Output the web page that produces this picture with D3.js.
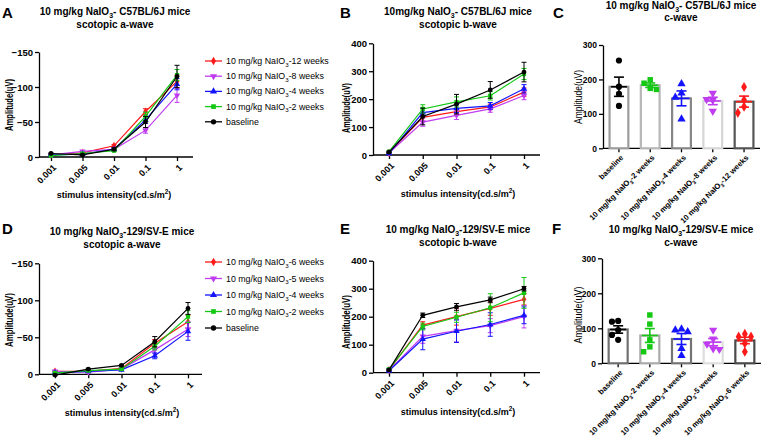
<!DOCTYPE html>
<html><head><meta charset="utf-8">
<script src="https://cdn.jsdelivr.net/npm/d3@7"></script>
<style>body{margin:0;background:#fff}svg{display:block}</style>
</head><body><svg id="c" width="762" height="438"></svg>
<script>
// ---------------- DATA ----------------
const intensities = ["0.001", "0.005", "0.01", "0.1", "1"];

// Panel A: C57BL/6J scotopic a-wave (uV)
const legendA = ["10 mg/kg NaIO3-12 weeks", "10 mg/kg NaIO3-8 weeks", "10 mg/kg NaIO3-4 weeks", "10 mg/kg NaIO3-2 weeks", "baseline"];
const A_w12 = [-3, -6, -16, -65, -108], A_w12Err = [1, 1, 2, 4, 9];
const A_w8  = [-3, -8, -11, -38, -88],  A_w8Err  = [1, 1, 1, 4, 10];
const A_w4  = [-3, -4, -11, -53, -104], A_w4Err  = [1, 1, 2, 5, 8];
const A_w2  = [-2, -5, -9, -58, -117],  A_w2Err  = [1, 1, 1, 6, 8];
const A_base = [-5, -3, -11, -50, -115], A_baseErr = [1, 1, 2, 8, 16];

// Panel B: C57BL/6J scotopic b-wave (uV)
const B_w12 = [8, 135, 155, 172, 225], B_w12Err = [2, 15, 12, 10, 15];
const B_w8  = [7, 118, 142, 165, 213], B_w8Err  = [2, 15, 15, 12, 15];
const B_w4  = [6, 152, 167, 176, 237], B_w4Err  = [2, 15, 15, 12, 15];
const B_w2  = [12, 165, 190, 212, 290], B_w2Err = [3, 15, 18, 15, 20];
const B_base = [10, 138, 182, 233, 297], B_baseErr = [3, 30, 35, 30, 35];

// Panel C: C57BL/6J c-wave, individual animals (uV)
const catsC = ["baseline", "10 mg/kg NaIO3-2 weeks", "10 mg/kg NaIO3-4 weeks", "10 mg/kg NaIO3-8 weeks", "10 mg/kg NaIO3-12 weeks"];
const C_base = [255, 179, 158, 123];
const C_w2   = [199, 189, 174, 171];
const C_w4   = [187, 160, 148, 85];
const C_w8   = [160, 142, 140, 108];
const C_w12  = [178, 140, 121, 103];

// Panel D: 129/SV-E scotopic a-wave (uV)
const legendD = ["10 mg/kg NaIO3-6 weeks", "10 mg/kg NaIO3-5 weeks", "10 mg/kg NaIO3-4 weeks", "10 mg/kg NaIO3-2 weeks", "baseline"];
const D_w6  = [-4, -4, -8, -42, -71], D_w6Err = [1, 1, 1, 5, 9];
const D_w5  = [-4, -3, -7, -33, -61], D_w5Err = [1, 1, 1, 5, 10];
const D_w4  = [-2, -4, -6, -25, -58], D_w4Err = [1, 1, 1, 4, 12];
const D_w2  = [-2, -5, -7, -38, -78], D_w2Err = [1, 1, 1, 5, 8];
const D_base = [1, -7, -12, -44, -89], D_baseErr = [1, 1, 1, 7, 8];

// Panel E: 129/SV-E scotopic b-wave (uV)
const E_w6  = [10, 170, 200, 230, 262], E_w6Err = [3, 12, 30, 25, 20];
const E_w5  = [8, 130, 150, 168, 200],  E_w5Err = [3, 25, 40, 25, 40];
const E_w4  = [7, 120, 148, 172, 205],  E_w4Err = [3, 38, 40, 42, 30];
const E_w2  = [12, 165, 198, 232, 285], E_w2Err = [3, 12, 18, 50, 55];
const E_base = [10, 205, 235, 260, 300], E_baseErr = [3, 8, 12, 10, 8];

// Panel F: 129/SV-E c-wave, individual animals (uV)
const catsF = ["baseline", "10 mg/kg NaIO3-2 weeks", "10 mg/kg NaIO3-4 weeks", "10 mg/kg NaIO3-5 weeks", "10 mg/kg NaIO3-6 weeks"];
const F_base = [121, 119, 95, 81, 67];
const F_w2   = [138, 112, 67, 47, 33];
const F_w4   = [98, 95, 90, 42, 22];
const F_w5   = [95, 70, 55, 42, 40];
const F_w6   = [84, 76, 76, 57, 33];

const aTicks = [-150, -100, -50, 0];
const bTicks = [0, 100, 200, 300, 400];
const cTicks = [0, 100, 200, 300];

// ---------------- STYLE ----------------
const FONT = '"Liberation Sans", Arial, Helvetica, sans-serif';
const lineColors = ["#ff1a1a", "#c03cf0", "#1414ff", "#14c814", "#000000"];
const lineSymbols = ["diamond", "down", "up", "square", "circle"];
const barPointColors = ["#000000", "#14c814", "#1414ff", "#c03cf0", "#ff1a1a"];
const barSymbols = ["circle", "square", "up", "down", "diamond"];
const barStrokeC = ["#9c9c9c", "#b6b6b6", "#868686", "#d6d6d6", "#555555"];
const barStrokeF = ["#707070", "#aaaaaa", "#747474", "#dedede", "#4a4a4a"];

const svg = d3.select("#c").attr("font-family", FONT);

function rich(t, str, fs) {
  t.text(null);
  let cur = 0;
  function add(s, off, small) {
    const ts = t.append("tspan").text(s);
    if (off !== cur) { ts.attr("dy", off - cur); cur = off; }
    if (small) ts.attr("font-size", fs * 0.7);
  }
  str.split(/(NaIO3|\^2)/).filter(p => p !== "").forEach(p => {
    if (p === "NaIO3") { add("NaIO", 0, false); add("3", fs * 0.3, true); }
    else if (p === "^2") { add("2", -fs * 0.4, true); }
    else add(p, 0, false);
  });
}

function symPath(kind, area) {
  const map = { circle: d3.symbolCircle, square: d3.symbolSquare, up: d3.symbolTriangle, down: d3.symbolTriangle, diamond: d3.symbolDiamond };
  return d3.symbol().type(map[kind]).size(area)();
}
function drawSym(g, kind, cx, cy, area, color) {
  g.append("path").attr("d", symPath(kind, area))
    .attr("transform", `translate(${cx},${cy})` + (kind === "down" ? " rotate(180)" : ""))
    .attr("fill", color);
}

function title(cx, y1, y2, l1, l2) {
  const t1 = svg.append("text").attr("x", cx).attr("y", y1).attr("text-anchor", "middle")
    .attr("font-size", 10).attr("font-weight", "bold");
  rich(t1, l1, 10);
  svg.append("text").attr("x", cx).attr("y", y2).attr("text-anchor", "middle")
    .attr("font-size", 10).attr("font-weight", "bold").text(l2);
}
function letter(x, y, s) {
  svg.append("text").attr("x", x).attr("y", y).attr("font-size", 15).attr("font-weight", "bold").text(s);
}
function yLabel(x, cy, bold, len) {
  svg.append("text").attr("transform", `translate(${x},${cy}) rotate(-90)`).attr("text-anchor", "middle")
    .attr("font-size", 10.5).attr("font-weight", bold ? "bold" : "normal")
    .attr("textLength", len).attr("lengthAdjust", "spacingAndGlyphs").text("Amplitude(uV)");
}

function linePanel(o) {
  const g = svg.append("g");
  const x = d3.scalePoint().domain(intensities).range([o.x0, o.x1]);
  const y = d3.scaleLinear().domain(o.yDomain).range([o.yBottom, o.yTop]);
  // y axis
  const ya = g.append("g").attr("transform", `translate(${o.axisX},0)`)
    .call(d3.axisLeft(y).tickValues(o.yTicks).tickSize(4).tickSizeOuter(0).tickFormat(d3.format("d")));
  ya.attr("font-family", FONT).attr("font-size", 9.5).attr("font-weight", "bold");
  ya.selectAll("path,line").attr("stroke-width", 1.3);
  ya.selectAll("text").attr("x", -6);
  // x axis
  const xa = g.append("g").attr("transform", `translate(0,${o.yBottom})`)
    .call(d3.axisBottom(x).tickSize(4));
  xa.select(".domain").remove();
  xa.selectAll("line").attr("stroke-width", 1.3);
  xa.attr("font-family", FONT).attr("font-size", 9).attr("font-weight", "bold");
  xa.selectAll("text").attr("x", 0).attr("y", 0).attr("dy", "0.35em")
    .attr("text-anchor", "end").attr("transform", "translate(3,9) rotate(-45)");
  g.append("line").attr("x1", o.axisX).attr("x2", o.axisEnd).attr("y1", o.yBottom).attr("y2", o.yBottom)
    .attr("stroke", "#000").attr("stroke-width", 1.3);
  // x label
  const xl = g.append("text").attr("x", o.xLabelX).attr("y", o.xLabelY).attr("text-anchor", "middle")
    .attr("font-size", 9).attr("font-weight", "bold");
  rich(xl, "stimulus intensity(cd.s/m^2)", 9);
  // series
  const line = d3.line().x((d, i) => x(intensities[i])).y(d => y(d));
  o.series.forEach((s, k) => {
    const c = lineColors[k];
    g.append("path").attr("d", line(s.values)).attr("fill", "none").attr("stroke", c).attr("stroke-width", 1.2);
    s.values.forEach((v, i) => {
      const cx = x(intensities[i]);
      const e = s.err[i];
      const ya1 = y(v - e), ya2 = y(v + e);
      g.append("line").attr("x1", cx).attr("x2", cx).attr("y1", ya1).attr("y2", ya2).attr("stroke", c).attr("stroke-width", 1);
      [ya1, ya2].forEach(yy => g.append("line").attr("x1", cx - 2.5).attr("x2", cx + 2.5).attr("y1", yy).attr("y2", yy).attr("stroke", c).attr("stroke-width", 1));
      drawSym(g, lineSymbols[k], cx, y(v), 18, c);
    });
  });
  // legend
  if (o.legend) {
    o.legend.forEach((lab, k) => {
      const ly = o.legY + k * o.legStep;
      g.append("line").attr("x1", 205).attr("x2", 222).attr("y1", ly).attr("y2", ly).attr("stroke", lineColors[k]).attr("stroke-width", 1.3);
      drawSym(g, lineSymbols[k], 213.5, ly, 22, lineColors[k]);
      const t = g.append("text").attr("x", 226).attr("y", ly).attr("dy", "0.35em").attr("font-size", 8.8);
      rich(t, lab, 8.8);
    });
  }
}

function barPanel(o) {
  const g = svg.append("g");
  const x = d3.scaleBand().domain(o.cats).range([o.axisX, o.axisEnd]).paddingInner(0.4).paddingOuter(0.21);
  const y = d3.scaleLinear().domain([0, 300]).range([o.yBottom, o.yTop]);
  const ya = g.append("g").attr("transform", `translate(${o.axisX},0)`)
    .call(d3.axisLeft(y).tickValues(cTicks).tickSize(4).tickSizeOuter(0).tickFormat(d3.format("d")));
  ya.attr("font-family", FONT).attr("font-size", 8.5).attr("font-weight", "bold");
  ya.selectAll("path,line").attr("stroke-width", 1.3);
  ya.selectAll("text").attr("x", -6);
  const xa = g.append("g").attr("transform", `translate(0,${o.yBottom})`)
    .call(d3.axisBottom(x).tickSize(4));
  xa.select(".domain").remove();
  xa.selectAll("line").attr("stroke-width", 1.3);
  xa.attr("font-family", FONT).attr("font-size", 7.7).attr("font-weight", "bold");
  xa.selectAll("text").attr("x", 0).attr("y", 0).attr("dy", "0.35em")
    .attr("text-anchor", "end").attr("transform", "translate(3,8) rotate(-45)")
    .each(function (d) { rich(d3.select(this), d, 7.7); });
  g.append("line").attr("x1", o.axisX).attr("x2", o.axisEnd).attr("y1", o.yBottom).attr("y2", o.yBottom)
    .attr("stroke", "#000").attr("stroke-width", 1.3);
  const bw = x.bandwidth();
  o.groups.forEach((vals, k) => {
    const cx = x(o.cats[k]) + bw / 2;
    const m = d3.mean(vals), sem = d3.deviation(vals) / Math.sqrt(vals.length);
    const col = barPointColors[k];
    g.append("rect").attr("x", cx - bw / 2).attr("width", bw).attr("y", y(m)).attr("height", y(0) - y(m))
      .attr("fill", "#fff").attr("stroke", o.barStroke[k]).attr("stroke-width", 2.2);
    // points with simple collision avoidance
    const placed = [];
    const sz = 6.2;
    vals.forEach(v => {
      const py = y(v);
      let px = 0;
      for (const c of [0, -1, 1, -2, 2]) {
        const cand = c * sz;
        if (placed.every(p => Math.hypot(p.px - cand, p.py - py) >= sz)) { px = cand; break; }
      }
      placed.push({ px, py });
      drawSym(g, barSymbols[k], cx + px, py, 30, col);
    });
    // mean and SEM
    g.append("line").attr("x1", cx - 8).attr("x2", cx + 8).attr("y1", y(m)).attr("y2", y(m)).attr("stroke", col).attr("stroke-width", 1.6);
    g.append("line").attr("x1", cx).attr("x2", cx).attr("y1", y(m - sem)).attr("y2", y(m + sem)).attr("stroke", col).attr("stroke-width", 1.6);
    [m - sem, m + sem].forEach(vv => g.append("line").attr("x1", cx - 5).attr("x2", cx + 5).attr("y1", y(vv)).attr("y2", y(vv)).attr("stroke", col).attr("stroke-width", 1.6));
  });
}

// ---------------- PANELS ----------------
const mk = (vals, errs) => vals.map((v, i) => ({ values: v, err: errs[i] }));

// A
letter(2, 18, "A");
title(115, 15, 28, "10 mg/kg NaIO3- C57BL/6J mice", "scotopic a-wave");
yLabel(13, 105, true, 52);
linePanel({ x0: 51, x1: 177, axisX: 39, axisEnd: 193, yBottom: 157, yTop: 52, yDomain: [0, -150], yTicks: aTicks,
  xLabelX: 114, xLabelY: 198, legend: legendA, legY: 61, legStep: 15.2,
  series: mk([A_w12, A_w8, A_w4, A_w2, A_base], [A_w12Err, A_w8Err, A_w4Err, A_w2Err, A_baseErr]) });

// B
letter(340, 18, "B");
title(458, 15, 28, "10mg/kg NaIO3- C57BL/6J mice", "scotopic b-wave");
yLabel(350, 108, true, 50);
linePanel({ x0: 389, x1: 524, axisX: 373, axisEnd: 540, yBottom: 155, yTop: 43.3, yDomain: [0, 400], yTicks: bTicks,
  xLabelX: 458, xLabelY: 197,
  series: mk([B_w12, B_w8, B_w4, B_w2, B_base], [B_w12Err, B_w8Err, B_w4Err, B_w2Err, B_baseErr]) });

// C
letter(553, 18, "C");
title(681, 9, 21, "10 mg/kg NaIO3- C57BL/6J mice", "c-wave");
yLabel(582, 97, false, 54);
barPanel({ cats: catsC, groups: [C_base, C_w2, C_w4, C_w8, C_w12], barStroke: barStrokeC,
  axisX: 603, axisEnd: 760, yBottom: 148.3, yTop: 45 });

// D
letter(2, 234, "D");
title(122, 235, 248, "10 mg/kg NaIO3-129/SV-E mice", "scotopic a-wave");
yLabel(13, 320, true, 54);
linePanel({ x0: 55, x1: 188, axisX: 39, axisEnd: 202, yBottom: 374.3, yTop: 263.3, yDomain: [0, -150], yTicks: aTicks,
  xLabelX: 122, xLabelY: 416, legend: legendD, legY: 262, legStep: 16.5,
  series: mk([D_w6, D_w5, D_w4, D_w2, D_base], [D_w6Err, D_w5Err, D_w4Err, D_w2Err, D_baseErr]) });

// E
letter(340, 234, "E");
title(458, 233, 246, "10 mg/kg NaIO3-129/SV-E mice", "scotopic b-wave");
yLabel(350, 322, true, 54);
linePanel({ x0: 389, x1: 524, axisX: 373, axisEnd: 540, yBottom: 372.7, yTop: 260.7, yDomain: [0, 400], yTicks: bTicks,
  xLabelX: 458, xLabelY: 415,
  series: mk([E_w6, E_w5, E_w4, E_w2, E_base], [E_w6Err, E_w5Err, E_w4Err, E_w2Err, E_baseErr]) });

// F
letter(552, 234, "F");
title(681, 233, 246, "10 mg/kg NaIO3-129/SV-E mice", "c-wave");
yLabel(582, 315, false, 57);
barPanel({ cats: catsF, groups: [F_base, F_w2, F_w4, F_w5, F_w6], barStroke: barStrokeF,
  axisX: 602, axisEnd: 761, yBottom: 363.3, yTop: 258.3 });
</script></body></html>
